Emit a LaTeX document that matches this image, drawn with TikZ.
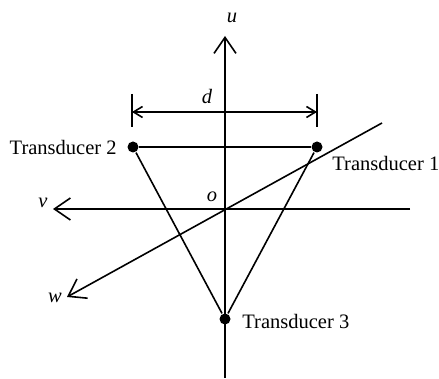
\documentclass[tikz,border=0pt]{standalone}
\usepackage{fontspec}
\setmainfont{Liberation Serif}
\usetikzlibrary{positioning,arrows.meta}

\begin{document}
\begin{tikzpicture}[x=1pt, y=1pt, line width=1.6pt, >={Straight Barb[length=16pt,width=22pt]},
    font=\fontsize{20.5}{24}\selectfont,
    dot/.style={circle, fill, inner sep=0pt, minimum size=11pt},
    dimarrow/.style={<->, >={Straight Barb[length=9pt,width=11pt]}}]
    \useasboundingbox (0,0) rectangle (439,379);

    % Axes
    \coordinate (o) at (225,170);
    \coordinate (utip) at (225,343);
    \coordinate (ubot) at (225,1);
    \coordinate (vtip) at (53,170);
    \coordinate (vend) at (410,170);
    \coordinate (wtip) at (67,82);
    \coordinate (wend) at (382,256);
    \draw[->] (ubot) -- (utip);
    \draw[->] (vend) -- (vtip);
    \draw[->] (wend) -- (wtip);

    \node (ulab) at (232,361) {\textit{u}};
    \node (vlab) at (43,176) {\textit{v}};
    \node (wlab) at (55,81) {\textit{w}};
    \node (olab) at (212,182) {\textit{o}};

    % Transducers
    \node[dot] (t1) at (317,232) {};
    \node[dot] (t2) at (133,232) {};
    \node[dot] (t3) at (225,60) {};
    \node[right=5pt of t1, yshift=-16pt] (lab1) {Transducer 1};
    \node[left=6pt of t2] (lab2) {Transducer 2};
    \node[right=7pt of t3, yshift=-2pt] (lab3) {Transducer 3};

    \draw (t2) -- (t1);
    \draw (t1) -- (t3);
    \draw (t3) -- (t2);

    % Distance d
    \coordinate (dl) at (132,267);
    \coordinate (dr) at (317,267);
    \coordinate (dltop) at (132,285);
    \coordinate (dlbot) at (132,252);
    \coordinate (drtop) at (317,285);
    \coordinate (drbot) at (317,252);
    \draw (dltop) -- (dlbot);
    \draw (drtop) -- (drbot);
    \draw[dimarrow] (dl) -- (dr);
    \node (dlab) at (207,282) {\textit{d}};
\end{tikzpicture}
\end{document}
